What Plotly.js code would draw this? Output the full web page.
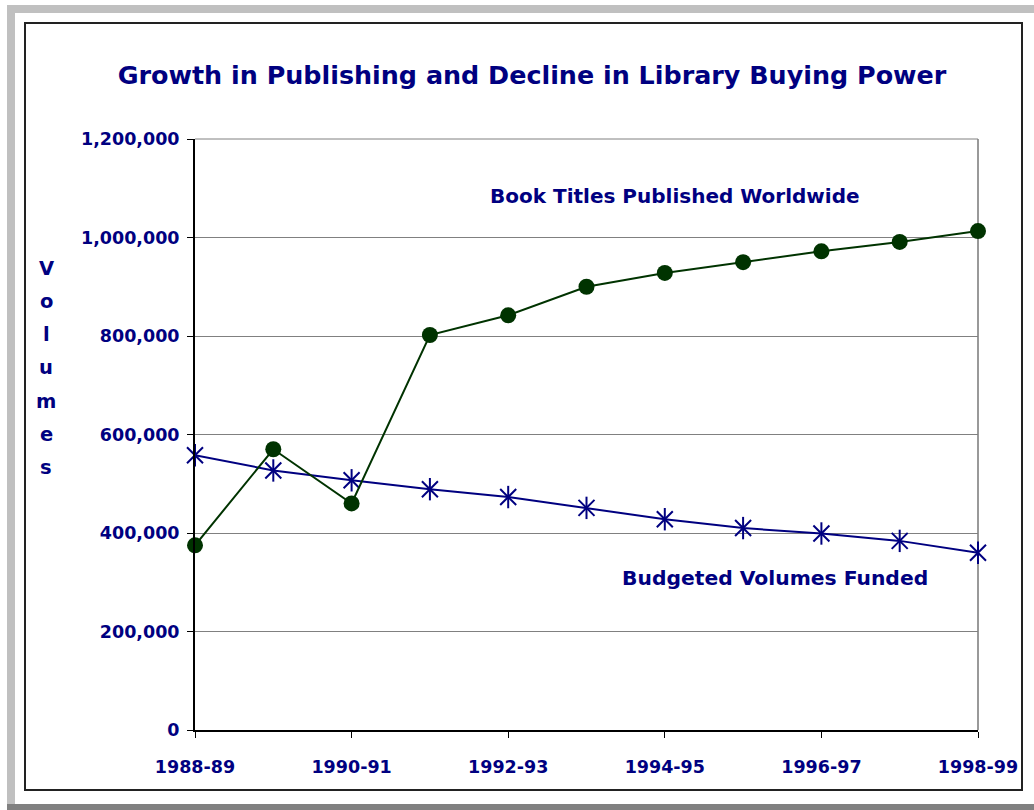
<!DOCTYPE html>
<html>
<head>
<meta charset="utf-8">
<script src="https://cdn.plot.ly/plotly-3.0.1.min.js"></script>
<style>html,body{margin:0;padding:0;background:#fff;}#chart{width:1034px;height:810px;}</style>
</head>
<body>
<div id="chart"></div>
<script>
const categories = ["1988-89","1989-90","1990-91","1991-92","1992-93","1993-94","1994-95","1995-96","1996-97","1997-98","1998-99"];
const bookTitles = [375000, 570000, 460000, 802000, 842000, 900000, 928000, 950000, 972000, 991000, 1013000];
const budgetedVolumes = [558000, 527000, 507000, 489000, 473000, 451000, 428000, 410000, 399000, 384000, 360000];
const tickLabels = ["1988-89","1990-91","1992-93","1994-95","1996-97","1998-99"];
const yTicks = [0, 200000, 400000, 600000, 800000, 1000000, 1200000];
const titleText = "Growth in Publishing and Decline in Library Buying Power";
const yTitleText = "Volumes";
const bookLabel = "Book Titles Published Worldwide";
const budgetLabel = "Budgeted Volumes Funded";

const W = 1034, H = 810;
const M = {l: 195, r: 56, t: 139, b: 80};
const PW = W - M.l - M.r, PH = H - M.t - M.b;
const px = x => (x - M.l) / PW;
const py = y => (H - M.b - y) / PH;

const navy = "#000080", green = "#003300";
const FONT = "DejaVu Sans, Verdana, sans-serif";

const traces = [
  {x: categories, y: budgetedVolumes, type: "scatter", mode: "lines+markers", cliponaxis: false,
   line: {color: navy, width: 2},
   marker: {symbol: "x-thin-open", size: 16, color: navy, line: {color: navy, width: 2}},
   hoverinfo: "x+y", showlegend: false},
  {x: categories, y: budgetedVolumes, type: "scatter", mode: "markers", cliponaxis: false,
   marker: {symbol: "line-ns-open", size: 16, color: navy, line: {color: navy, width: 2}},
   hoverinfo: "skip", showlegend: false},
  {x: categories, y: bookTitles, type: "scatter", mode: "lines+markers", cliponaxis: false,
   line: {color: green, width: 2},
   marker: {symbol: "circle", size: 16, color: green},
   hoverinfo: "x+y", showlegend: false}
];

const annotations = [
  {text: bookLabel, xref: "paper", yref: "paper", x: px(675), y: py(196), showarrow: false,
   font: {family: FONT, size: 20, color: navy, weight: "bold"}, xanchor: "center", yanchor: "middle"},
  {text: budgetLabel, xref: "paper", yref: "paper", x: px(775), y: py(578), showarrow: false,
   font: {family: FONT, size: 20.3, color: navy, weight: "bold"}, xanchor: "center", yanchor: "middle"}
];
const letters = yTitleText.split("");
letters.forEach((ch, i) => {
  annotations.push({text: ch, xref: "paper", yref: "paper", x: px(46), y: py(268 + i * 33.3),
    showarrow: false, xanchor: "center", yanchor: "middle",
    font: {family: FONT, size: 19.5, color: navy, weight: "bold"}});
});

const shapes = [
  {type: "rect", xref: "paper", yref: "paper", x0: px(7), x1: px(1034), y0: py(5), y1: py(13), fillcolor: "#c0c0c0", line: {width: 0}, layer: "below"},
  {type: "rect", xref: "paper", yref: "paper", x0: px(7), x1: px(15), y0: py(5), y1: py(804), fillcolor: "#c0c0c0", line: {width: 0}, layer: "below"},
  {type: "rect", xref: "paper", yref: "paper", x0: px(7), x1: px(1034), y0: py(804), y1: py(810), fillcolor: "#808080", line: {width: 0}, layer: "below"},
  {type: "rect", xref: "paper", yref: "paper", x0: px(25), x1: px(1022), y0: py(23), y1: py(790), line: {color: "#222", width: 2}, layer: "below"},
  {type: "line", xref: "paper", yref: "paper", x0: 1, x1: 1, y0: 0, y1: 1, line: {color: "#999", width: 2}, layer: "below"},
  {type: "line", xref: "paper", yref: "paper", x0: 0, x1: 1, y0: 1, y1: 1, line: {color: "#808080", width: 1}, layer: "below"}
];

const layout = {
  width: W, height: H,
  margin: M,
  paper_bgcolor: "#fff", plot_bgcolor: "#fff",
  title: {text: titleText, xref: "container", x: 532 / W, xanchor: "center", yref: "container", y: 1 - 75 / H, yanchor: "middle",
    font: {family: FONT, size: 25.4, color: navy, weight: "bold"}},
  xaxis: {type: "category", range: [0, categories.length - 1], tickmode: "array", tickvals: tickLabels, ticktext: tickLabels,
    showgrid: false, zeroline: false, showline: true, linecolor: "#000", linewidth: 2,
    ticks: "outside", ticklen: 6, tickcolor: "#000", tickwidth: 1, ticklabelstandoff: 14,
    tickfont: {family: FONT, size: 17.5, color: navy, weight: "bold"}},
  yaxis: {range: [0, 1200000], tickmode: "array", tickvals: yTicks, tickformat: ",d",
    showgrid: true, gridcolor: "#808080", gridwidth: 1, zeroline: false,
    showline: true, linecolor: "#000", linewidth: 2,
    ticks: "outside", ticklen: 6, tickcolor: "#000", tickwidth: 1, ticklabelstandoff: 4,
    tickfont: {family: FONT, size: 17.5, color: navy, weight: "bold"}},
  annotations: annotations,
  shapes: shapes,
  showlegend: false
};

Plotly.newPlot("chart", traces, layout, {displayModeBar: false, staticPlot: true});
</script>
</body>
</html>
